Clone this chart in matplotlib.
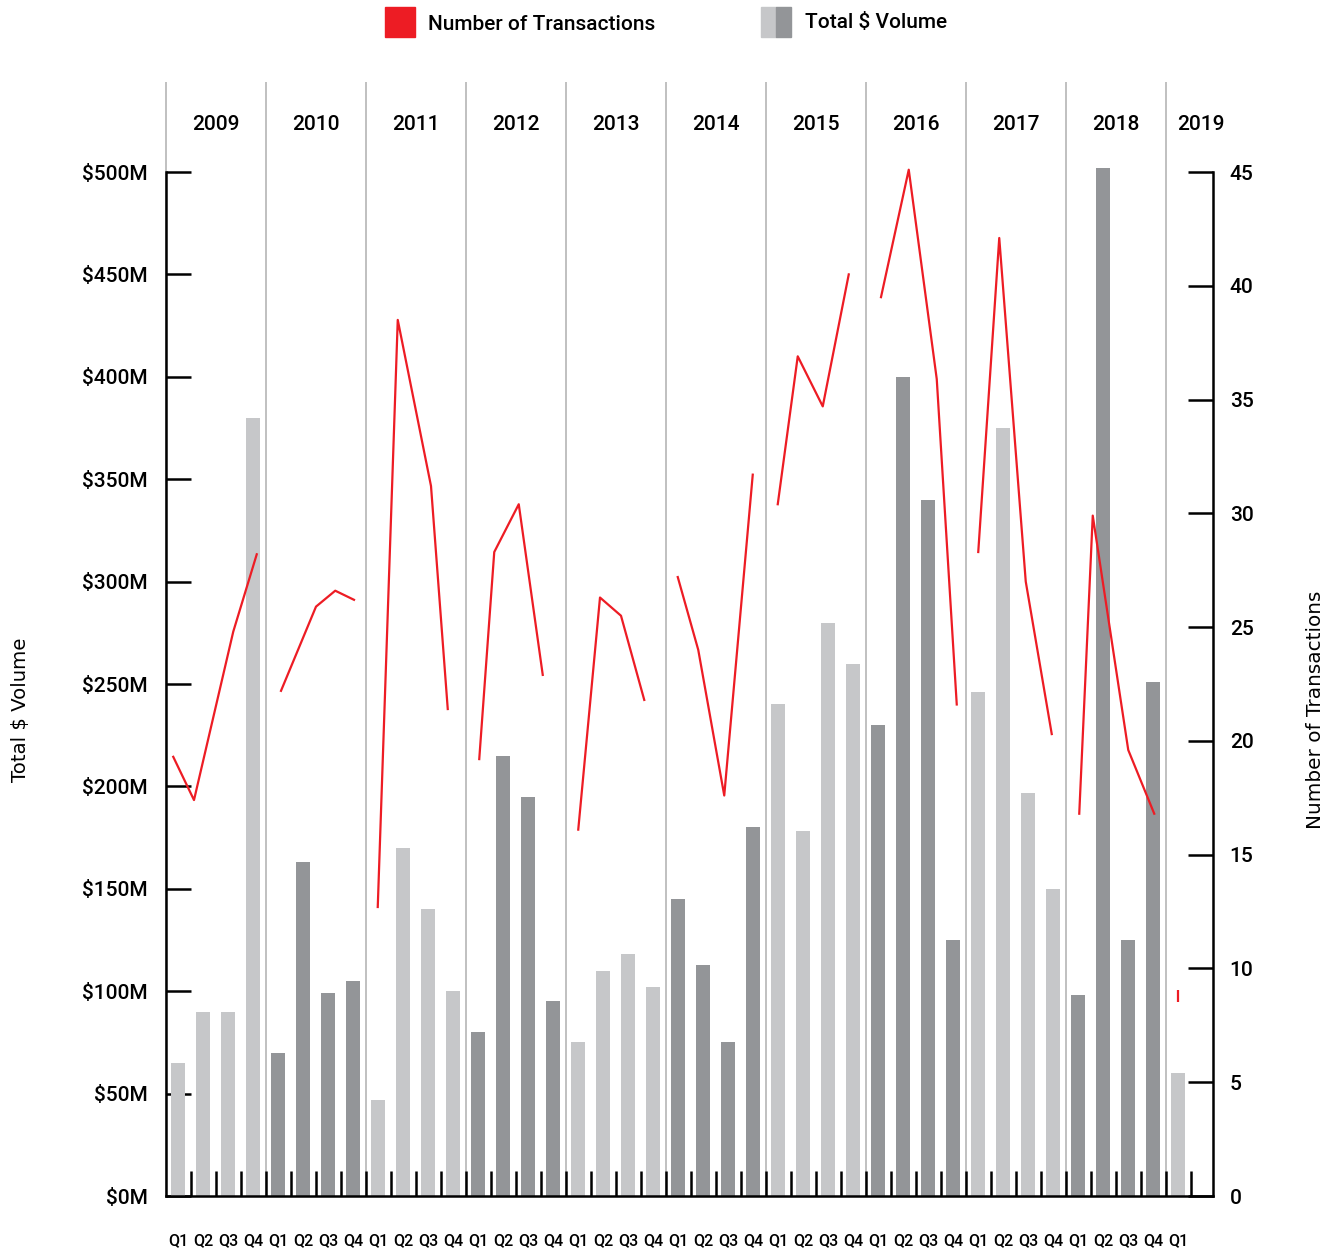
import matplotlib
matplotlib.use("Agg")
import matplotlib.pyplot as plt
from matplotlib.patches import Rectangle

plt.rcParams['font.family'] = ['Roboto', 'DejaVu Sans']
plt.rcParams['font.weight'] = 500

years = ["2009", "2010", "2011", "2012", "2013", "2014",
         "2015", "2016", "2017", "2018", "2019"]
quarters = ["Q1", "Q2", "Q3", "Q4"] * 10 + ["Q1"]

# total $ volume per quarter, $M
volume = [65, 90, 90, 380,
          70, 163, 99, 105,
          47, 170, 140, 100,
          80, 215, 195, 95,
          75, 110, 118, 102,
          145, 113, 75, 180,
          240, 178, 280, 260,
          230, 400, 340, 125,
          246, 375, 197, 150,
          98, 502, 125, 251,
          60]

# number of transactions, one segment per year (x in quarter index)
trans_x = [[-0.19, 0.64, 2.21, 3.15],
           [4.12, 5.52, 6.29, 7.04],
           [7.99, 8.79, 10.12, 10.79],
           [12.05, 12.65, 13.63, 14.59],
           [16.01, 16.88, 17.72, 18.65],
           [19.99, 20.81, 21.85, 22.99],
           [23.99, 24.79, 25.79, 26.83],
           [28.12, 29.23, 30.35, 31.15],
           [32.01, 32.85, 33.91, 34.95],
           [36.05, 36.59, 38.01, 39.05],
           [40.0]]
trans_n = [[19.3, 17.4, 24.8, 28.2],
           [22.2, 25.9, 26.6, 26.2],
           [12.7, 38.5, 31.2, 21.4],
           [19.2, 28.3, 30.4, 22.9],
           [16.1, 26.3, 25.5, 21.8],
           [27.2, 24.0, 17.6, 31.7],
           [30.4, 36.9, 34.7, 40.5],
           [39.5, 45.1, 35.9, 21.6],
           [28.3, 42.1, 27.0, 20.3],
           [16.8, 29.9, 19.6, 16.8],
           [8.8]]

RED = "#ed1c24"
LIGHT = "#c6c7c9"
DARK = "#939598"
SEP = "#b5b5b5"

W, H = 1333, 1256
fig = plt.figure(figsize=(W / 100, H / 100), dpi=100)
ax = fig.add_axes([166 / W, 1 - 1196 / H, (1213 - 166) / W, (1196 - 172) / H])

colors = [LIGHT if (i // 4) % 2 == 0 else DARK for i in range(len(volume))]
ax.bar(range(len(volume)), volume, width=0.56, color=colors, zorder=2, clip_on=False)

ax.set_xlim(-0.48, 41.4)
ax.set_ylim(0, 500)

# year separators reaching above the plot
seps = [-0.48] + [3.5 + 4 * k for k in range(10)]
ax.vlines(seps, 0, 1.088, transform=ax.get_xaxis_transform(), color=SEP,
          lw=1.2, clip_on=False, zorder=1)
for k, yr in enumerate(years):
    xc = 1.5 + 4 * k if k < 10 else 40.9
    ax.text(xc, 1.046, yr, transform=ax.get_xaxis_transform(), ha="center",
            va="center", fontsize=15)

for s in ["top", "right"]:
    ax.spines[s].set_visible(False)
for s in ["left", "bottom"]:
    ax.spines[s].set_linewidth(1.8)

ax.set_yticks(range(0, 501, 50))
ax.set_yticklabels([f"${v}M" for v in range(0, 501, 50)])
ax.tick_params(axis="y", direction="in", length=18, width=1.8, pad=13, labelsize=15)

ax.set_xticks(range(len(quarters)))
ax.set_xticklabels(quarters)
ax.tick_params(axis="x", which="major", length=0, pad=27, labelsize=11.5)
ax.set_xticks([i + 0.5 for i in range(len(quarters))], minor=True)
ax.tick_params(axis="x", which="minor", direction="in", length=18, width=1.8)

ax.set_ylabel("Total $ Volume", family="DejaVu Sans", fontsize=14.2, fontweight="normal")
ax.yaxis.set_label_coords(-0.13, 0.475)

ax2 = ax.twinx()
ax2.set_ylim(0, 45)
for s in ["top", "left", "bottom"]:
    ax2.spines[s].set_visible(False)
ax2.spines["right"].set_linewidth(1.8)
ax2.set_yticks(range(0, 46, 5))
ax2.tick_params(axis="y", direction="in", length=18, width=1.8, pad=12, labelsize=15)
for xs, ns in zip(trans_x, trans_n):
    if len(xs) > 1:
        ax2.plot(xs, ns, color=RED, lw=1.6, clip_on=False)
    else:
        ax2.plot(xs, ns, color=RED, marker="|", markersize=8, mew=1.6, ls="none")
ax2.set_ylabel("Number of Transactions", family="DejaVu Sans", fontsize=14.4,
               fontweight="normal")
ax2.yaxis.set_label_coords(1.089, 0.475)

# legend
fig.patches.append(Rectangle((385 / W, 1 - 37 / H), 30 / W, 30 / H,
                             transform=fig.transFigure, color=RED))
fig.text(428 / W, 1 - 24 / H, "Number of Transactions", fontsize=15, va="center")
fig.patches.append(Rectangle((761 / W, 1 - 37 / H), 15 / W, 30 / H,
                             transform=fig.transFigure, color=LIGHT))
fig.patches.append(Rectangle((776 / W, 1 - 37 / H), 15 / W, 30 / H,
                             transform=fig.transFigure, color=DARK))
fig.text(805 / W, 1 - 22 / H, "Total $ Volume", fontsize=15, va="center")

fig.savefig("out.png", dpi=100)
